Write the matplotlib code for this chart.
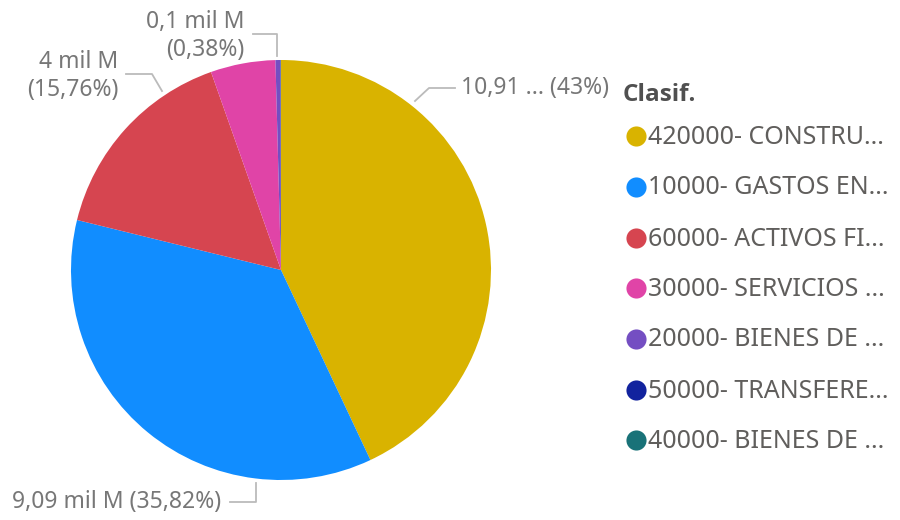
import matplotlib.pyplot as plt

# Clasif. -> value (mil M), in clockwise order from 12 o'clock
categories = ["420000- CONSTRU...", "10000- GASTOS EN...", "60000- ACTIVOS FI...",
              "30000- SERVICIOS ...", "20000- BIENES DE ...", "50000- TRANSFERE...",
              "40000- BIENES DE ..."]
values = [10.91, 9.09, 4.0, 1.265, 0.097, 0.006, 0.004]
colors = ["#D9B300", "#118DFF", "#D64550", "#E044A7", "#744EC2", "#12239E", "#197278"]

plt.rcParams['font.family'] = ['Noto Sans', 'DejaVu Sans']

fig = plt.figure(figsize=(9, 5.2), dpi=100)
ax = fig.add_axes([0, 0, 1, 1])

# y axis runs downwards (pixel-like coordinates), so counterclock=True draws clockwise
ax.pie(values, colors=colors, startangle=-90, counterclock=True,
       center=(281, 270), radius=210, wedgeprops=dict(linewidth=0))
ax.set_xlim(0, 900)
ax.set_ylim(520, 0)
ax.set_aspect('equal')
ax.axis('off')

lab_col = "#777777"
line_col = "#BBBBBB"
fs = 16.5

# data labels with leader lines
ax.plot([415, 429, 455], [101, 88, 88], color=line_col, lw=1.3)
ax.text(461, 88, "10,91 ... (43%)", color=lab_col, fontsize=fs, ha='left', va='center')

ax.plot([256, 256, 230], [483, 502, 502], color=line_col, lw=1.3)
ax.text(221, 502, "9,09 mil M (35,82%)", color=lab_col, fontsize=fs, ha='right', va='center')

ax.plot([162, 152, 126], [91, 74, 74], color=line_col, lw=1.3)
ax.text(118, 76, "4 mil M\n(15,76%)", color=lab_col, fontsize=fs, ha='right', va='center',
        multialignment='right', linespacing=1.2)

ax.plot([277, 277, 253], [56, 34, 34], color=line_col, lw=1.3)
ax.text(244, 36, "0,1 mil M\n(0,38%)", color=lab_col, fontsize=fs, ha='right', va='center',
        multialignment='right', linespacing=1.2)

# legend
ax.text(623, 95, "Clasif.", color="#505050", fontsize=17.5, fontweight='bold',
        family=['Open Sans', 'DejaVu Sans'], ha='left', va='center')
leg_y = [136, 187, 238, 288, 339, 390, 440]
for name, col, y in zip(categories, colors, leg_y):
    ax.scatter([636], [y], s=210, color=col, linewidths=0)
    ax.text(648, y + 1, name, color="#605E5C", fontsize=18, ha='left', va='center')

fig.savefig("out.png", dpi=100)
